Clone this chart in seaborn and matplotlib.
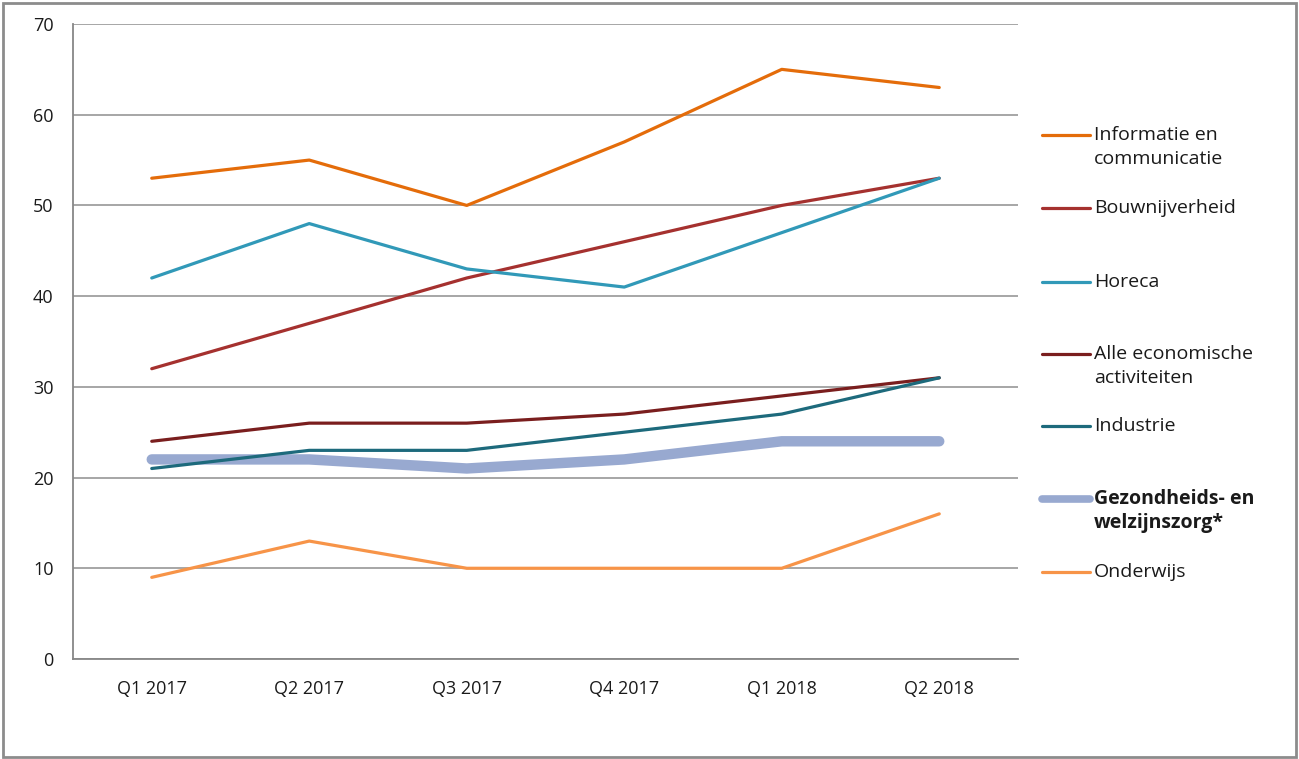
import matplotlib.pyplot as plt
import matplotlib.lines as mlines
import matplotlib.patches as mpatches
import seaborn as sns
import pandas as pd
import numpy as np

quarters = ['Q1 2017', 'Q2 2017', 'Q3 2017', 'Q4 2017', 'Q1 2018', 'Q2 2018']

informatie = [53, 55, 50, 57, 65, 63]
bouw = [32, 37, 42, 46, 50, 53]
horeca = [42, 48, 43, 41, 47, 53]
alle = [24, 26, 26, 27, 29, 31]
industrie = [21, 23, 23, 25, 27, 31]
gezondheid = [22, 22, 21, 22, 24, 24]
onderwijs = [9, 13, 10, 10, 10, 16]

names = ['Informatie en\ncommunicatie', 'Bouwnijverheid', 'Horeca',
         'Alle economische\nactiviteiten', 'Industrie',
         'Gezondheids- en\nwelzijnszorg*', 'Onderwijs']
series = [informatie, bouw, horeca, alle, industrie, gezondheid, onderwijs]
colors = ['#E46C0A', '#A5312F', '#3199B8', '#7A1E1E', '#1D6A7C', '#98A9D0', '#F79448']
widths = [2.3, 2.3, 2.3, 2.3, 2.3, 7.5, 2.3]
# thick line is drawn first so the thin ones sit on top
order = [5, 0, 1, 2, 3, 4, 6]

sns.set_style('white')
plt.rcParams['font.family'] = ['Open Sans', 'DejaVu Sans']
text_col = '#1A1A1A'
grid_col = '#A6A6A6'

fig = plt.figure(figsize=(12.99, 7.59), dpi=100)
ax = fig.add_axes([73 / 1299, 1 - 659 / 759, (1018 - 73) / 1299, (659 - 24) / 759])

x = np.arange(len(quarters))
for i in order:
    df = pd.DataFrame({'x': x, 'y': series[i]})
    sns.lineplot(data=df, x='x', y='y', ax=ax, color=colors[i], lw=widths[i],
                 solid_capstyle='round', solid_joinstyle='round', zorder=3)

ax.set_xlim(-0.5, len(quarters) - 0.5)
ax.set_ylim(0, 70)
ax.set_yticks(range(0, 71, 10))
ax.set_xticks(x)
ax.set_xticklabels(quarters)
ax.set_xticks(np.arange(-0.5, len(quarters), 1), minor=True)
ax.tick_params(axis='x', which='major', length=0, pad=15, labelsize=13, labelcolor=text_col)
ax.tick_params(axis='x', which='minor', length=5, width=1.3, color='#878787', direction='out')
ax.tick_params(axis='y', length=6, width=1.3, color='#878787', direction='out', pad=8,
               labelsize=13, labelcolor=text_col)
ax.yaxis.grid(True, color=grid_col, lw=1.4)
ax.set_axisbelow(True)
ax.set_xlabel('')
ax.set_ylabel('')
for s in ['top', 'right']:
    ax.spines[s].set_visible(False)
for s in ['left', 'bottom']:
    ax.spines[s].set_color('#878787')
    ax.spines[s].set_linewidth(1.3)

# legend on the right, handle aligned with the first text line
leg_y = [135, 208, 282, 354, 426, 499, 572]
for i, name in enumerate(names):
    yf = 1 - leg_y[i] / 759
    fig.add_artist(mlines.Line2D([1042 / 1299, 1090 / 1299], [yf, yf], color=colors[i],
                                 lw=widths[i] if widths[i] < 5 else 5.5,
                                 solid_capstyle='round', transform=fig.transFigure))
    weight = 'bold' if i == 5 else 'normal'
    for j, part in enumerate(name.split('\n')):
        fig.text(1094 / 1299, yf - j * 24 / 759, part, va='center', ha='left',
                 fontsize=14, color=text_col, weight=weight)

fig.add_artist(mpatches.Rectangle((3 / 1299, 2 / 759), 1293 / 1299, 754 / 759,
                                  fill=False, ec='#8C8C8C', lw=2, transform=fig.transFigure))

fig.savefig('out.png', dpi=100)
